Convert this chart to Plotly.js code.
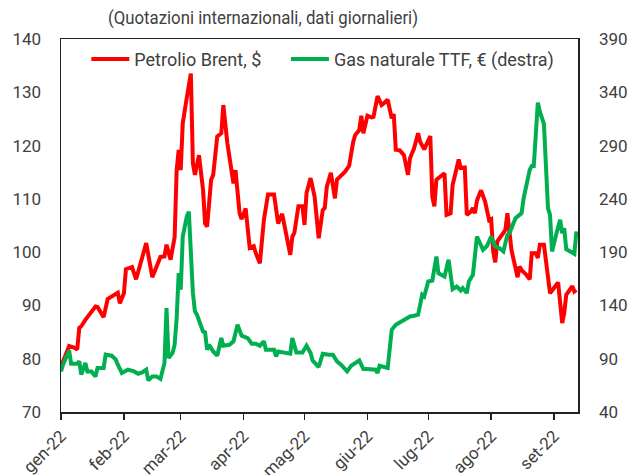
<!DOCTYPE html>
<html>
<head>
<meta charset="utf-8">
<script src="https://cdn.plot.ly/plotly-3.0.1.min.js"></script>
<style>
  html, body { margin: 0; padding: 0; background: #fff; }
  #chart { width: 630px; height: 475px; }
</style>
</head>
<body>
<div id="chart"></div>
<script>
// Brent crude oil, $ (left axis)
const brentDates = [
  "2022-01-01","2022-01-05","2022-01-08","2022-01-09","2022-01-10","2022-01-11","2022-01-13","2022-01-14",
  "2022-01-18","2022-01-19","2022-01-22","2022-01-24","2022-01-26","2022-01-29","2022-01-30","2022-02-01",
  "2022-02-02","2022-02-05","2022-02-07","2022-02-12","2022-02-15","2022-02-19","2022-02-21","2022-02-22",
  "2022-02-24","2022-02-26","2022-02-27","2022-02-28","2022-03-01","2022-03-02","2022-03-04","2022-03-06",
  "2022-03-07","2022-03-08","2022-03-10","2022-03-12","2022-03-13","2022-03-14","2022-03-16","2022-03-17",
  "2022-03-19","2022-03-21","2022-03-22","2022-03-23","2022-03-24","2022-03-27","2022-03-28","2022-03-30",
  "2022-03-31","2022-04-02","2022-04-04","2022-04-06","2022-04-07","2022-04-09","2022-04-11","2022-04-13",
  "2022-04-16","2022-04-18","2022-04-20","2022-04-24","2022-04-25","2022-04-26","2022-04-28","2022-04-30",
  "2022-05-01","2022-05-02","2022-05-04","2022-05-06","2022-05-08","2022-05-10","2022-05-11","2022-05-12",
  "2022-05-14","2022-05-16","2022-05-17","2022-05-21","2022-05-23","2022-05-25","2022-05-26","2022-05-28",
  "2022-05-29","2022-05-30","2022-06-01","2022-06-03","2022-06-04","2022-06-06","2022-06-08","2022-06-09",
  "2022-06-11","2022-06-13","2022-06-14","2022-06-15","2022-06-17","2022-06-19","2022-06-20","2022-06-21",
  "2022-06-22","2022-06-24","2022-06-26","2022-06-27","2022-06-29","2022-07-02","2022-07-03","2022-07-04",
  "2022-07-05","2022-07-09","2022-07-10","2022-07-12","2022-07-13","2022-07-15","2022-07-16","2022-07-17",
  "2022-07-19","2022-07-20","2022-07-22","2022-07-23","2022-07-24","2022-07-25","2022-07-27","2022-07-29",
  "2022-07-30","2022-07-31","2022-08-01","2022-08-02","2022-08-03","2022-08-04","2022-08-07","2022-08-08",
  "2022-08-09","2022-08-10","2022-08-11","2022-08-14","2022-08-15","2022-08-16","2022-08-18","2022-08-20",
  "2022-08-21","2022-08-23","2022-08-24","2022-08-25","2022-08-27","2022-08-30","2022-09-01","2022-09-03",
  "2022-09-05","2022-09-06","2022-09-07","2022-09-09","2022-09-10","2022-09-11","2022-09-12"
];
const brentValues = [
  78.5,82.4,82.0,81.7,85.8,86.1,87.3,87.8,
  89.8,89.7,87.8,91.2,91.6,92.4,90.4,92.3,
  96.8,97.2,94.9,101.7,95.3,99.1,99.2,101.4,
  98.6,102.8,115.4,119.2,115.4,124.2,129.0,133.5,
  116.7,114.5,118.2,111.7,105.4,104.8,113.6,114.5,
  121.7,122.3,127.6,123.6,120.4,112.9,115.4,107.3,
  106.2,108.2,100.8,101.1,99.8,97.9,106.1,110.8,
  110.8,105.4,107.2,99.5,102.9,103.6,108.6,108.6,
  105.1,111.1,113.9,110.4,102.6,107.9,108.3,112.3,
  114.9,110.1,113.6,115.1,116.2,120.7,122.0,122.9,
  125.6,122.3,125.6,125.3,125.4,129.3,127.6,127.9,
  128.6,125.1,125.9,119.2,119.1,118.2,116.1,114.5,
  117.6,119.5,122.3,120.7,119.3,121.8,110.4,108.6,
  113.6,114.8,107.0,107.3,112.6,115.4,117.4,115.8,
  115.9,107.0,107.6,108.3,107.3,109.7,111.6,109.5,
  107.2,106.0,106.2,100.1,98.1,102.0,103.6,104.2,
  107.3,103.6,100.4,95.3,97.3,96.6,95.9,94.9,
  99.8,99.8,98.9,101.4,101.4,92.3,93.3,94.3,
  86.7,88.6,92.0,93.1,93.6,92.6,92.9
];

// TTF natural gas, EUR (right axis)
const gasDates = [
  "2022-01-01","2022-01-02","2022-01-05","2022-01-06","2022-01-09","2022-01-10","2022-01-11","2022-01-13",
  "2022-01-14","2022-01-16","2022-01-18","2022-01-19","2022-01-22","2022-01-23","2022-01-26","2022-01-28",
  "2022-01-29","2022-01-31","2022-02-03","2022-02-06","2022-02-08","2022-02-10","2022-02-12","2022-02-13",
  "2022-02-15","2022-02-17","2022-02-19","2022-02-21","2022-02-22","2022-02-23","2022-02-25","2022-02-26",
  "2022-02-27","2022-02-28","2022-03-01","2022-03-02","2022-03-04","2022-03-05","2022-03-06","2022-03-07",
  "2022-03-08","2022-03-09","2022-03-12","2022-03-13","2022-03-14","2022-03-15","2022-03-17","2022-03-19",
  "2022-03-21","2022-03-22","2022-03-25","2022-03-27","2022-03-29","2022-03-31","2022-04-03","2022-04-05",
  "2022-04-07","2022-04-09","2022-04-11","2022-04-12","2022-04-16","2022-04-17","2022-04-18","2022-04-21",
  "2022-04-24","2022-04-25","2022-04-27","2022-04-30","2022-05-02","2022-05-04","2022-05-05","2022-05-08",
  "2022-05-10","2022-05-13","2022-05-15","2022-05-17","2022-05-19","2022-05-22","2022-05-24","2022-05-28",
  "2022-05-30","2022-06-01","2022-06-05","2022-06-06","2022-06-07","2022-06-11","2022-06-13","2022-06-15",
  "2022-06-18","2022-06-22","2022-06-24","2022-06-26","2022-06-28","2022-06-29","2022-07-01","2022-07-03",
  "2022-07-05","2022-07-06","2022-07-09","2022-07-11","2022-07-13","2022-07-15","2022-07-17","2022-07-18",
  "2022-07-20","2022-07-21","2022-07-23","2022-07-25","2022-07-28","2022-07-30","2022-08-01","2022-08-03",
  "2022-08-05","2022-08-07","2022-08-09","2022-08-10","2022-08-13","2022-08-16","2022-08-17","2022-08-20",
  "2022-08-21","2022-08-22","2022-08-24","2022-08-25","2022-08-27","2022-08-29","2022-08-30","2022-08-31",
  "2022-09-02","2022-09-04","2022-09-05","2022-09-06","2022-09-07","2022-09-09","2022-09-11","2022-09-12"
];
const gasValues = [
  78.0,84.4,97.8,85.3,85.3,87.5,75.0,86.0,
  78.1,78.1,73.4,81.3,81.3,93.8,92.8,89.1,
  84.4,76.6,79.7,78.1,75.9,77.2,79.7,69.7,
  73.4,73.4,71.0,86.0,137.5,90.7,95.4,103.1,
  128.1,170.3,154.7,204.7,223.4,228.0,190.0,152.0,
  134.4,131.3,115.6,114.7,98.4,103.1,96.8,92.8,
  109.4,102.2,103.1,106.3,121.9,111.6,109.4,104.1,
  104.1,102.2,106.3,98.4,98.4,92.2,96.8,95.9,
  94.7,109.4,95.9,95.9,102.2,95.3,88.4,82.2,
  94.7,93.8,93.8,87.5,84.4,78.1,83.4,88.4,
  80.3,80.3,79.7,76.6,83.4,81.3,117.2,121.9,
  125.0,129.7,130.3,131.3,150.0,148.4,162.5,163.4,
  185.9,170.3,167.2,182.8,155.3,157.8,154.0,156.3,
  151.6,162.5,168.8,204.7,192.2,196.0,204.7,195.3,
  193.8,190.6,206.3,207.8,221.9,226.6,240.6,267.2,
  270.9,270.9,330.3,321.9,310.3,231.3,225.0,190.6,
  206.3,220.3,207.8,212.5,192.8,190.6,188.4,209.4
];

const monthTicks = ["2022-01-01","2022-02-01","2022-03-01","2022-04-01","2022-05-01","2022-06-01","2022-07-01","2022-08-01","2022-09-01"];
const monthLabels = ["gen-22","feb-22","mar-22","apr-22","mag-22","giu-22","lug-22","ago-22","set-22"];
const seriesNames = ["Petrolio Brent, $", "Gas naturale TTF, € (destra)"];
const subtitle = "(Quotazioni internazionali, dati giornalieri)";

const textColor = "#404040";
const fontFamily = "Roboto, 'Open Sans', sans-serif";

const traces = [
  {
    x: brentDates, y: brentValues, name: seriesNames[0], type: "scatter", mode: "lines",
    line: { color: "#ff0000", width: 4 }, yaxis: "y", legend: "legend"
  },
  {
    x: gasDates, y: gasValues, name: seriesNames[1], type: "scatter", mode: "lines",
    line: { color: "#00b050", width: 4 }, yaxis: "y2", legend: "legend2"
  }
];

const legendStyle = {
  orientation: "h", xanchor: "left", y: 0.995, yanchor: "top",
  font: { family: fontFamily, size: 18, color: textColor },
  itemwidth: 38, bgcolor: "rgba(0,0,0,0)"
};

const layout = {
  width: 630, height: 475,
  margin: { l: 61, r: 52, t: 39, b: 63 },
  paper_bgcolor: "#ffffff", plot_bgcolor: "#ffffff",
  font: { family: fontFamily, color: textColor, size: 17 },
  title: {
    text: subtitle,
    font: { family: fontFamily, size: 18, color: textColor },
    x: 263 / 630, xanchor: "center", xref: "container",
    y: 0.962, yanchor: "middle", yref: "container"
  },
  showlegend: true,
  legend: Object.assign({}, legendStyle, { x: 0.049 }),
  legend2: Object.assign({}, legendStyle, { x: 0.4351 }),
  xaxis: {
    type: "date",
    range: ["2022-01-01", "2022-09-12 19:00"],
    tickmode: "array", tickvals: monthTicks, ticktext: monthLabels,
    tickangle: -45, ticks: "outside", ticklen: 6, tickwidth: 1.5, tickcolor: "#222",
    showline: true, linecolor: "#222", linewidth: 1.5, mirror: true,
    showgrid: false, zeroline: false,
    tickfont: { family: fontFamily, size: 17, color: textColor }
  },
  yaxis: {
    range: [70, 140], dtick: 10, tick0: 70,
    showline: true, linecolor: "#222", linewidth: 1.5, mirror: true,
    ticks: "", showgrid: false, zeroline: false, ticklabelstandoff: 15,
    tickfont: { family: fontFamily, size: 17, color: textColor }
  },
  yaxis2: {
    range: [40, 390], dtick: 50, tick0: 40,
    overlaying: "y", side: "right",
    showline: false, ticks: "", showgrid: false, zeroline: false, ticklabelstandoff: 20,
    tickfont: { family: fontFamily, size: 17, color: textColor }
  }
};

Plotly.newPlot("chart", traces, layout, { displayModeBar: false, staticPlot: true }).then(function (gd) {
  // the reference subtitle is set in a narrower face: fit it to the same width
  const t = gd.querySelector(".gtitle");
  if (t) {
    t.setAttribute("textLength", "310");
    t.setAttribute("lengthAdjust", "spacingAndGlyphs");
  }
});
</script>
</body>
</html>
